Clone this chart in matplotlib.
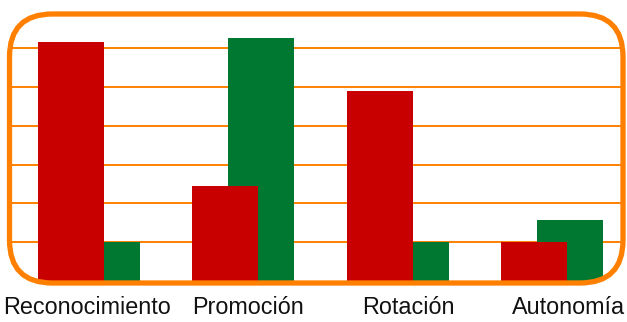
import matplotlib.pyplot as plt
from matplotlib.patches import FancyBboxPatch

# Valores por categoría (unidades = una línea de la rejilla)
categorias = ['Reconocimiento', 'Promoción', 'Rotación', 'Autonomía']
serie_roja = [6.17, 2.46, 4.9, 1.0]
serie_verde = [1.0, 6.26, 1.0, 1.58]

naranja = '#FF8000'
rojo = '#C80000'
verde = '#007832'

fig = plt.figure(figsize=(6.27, 3.22), dpi=100)
ax = fig.add_axes([9.5 / 627, (322 - 283) / 322, (623 - 9.5) / 627, (283 - 14) / 322])

ancho = 0.428
desplaz = 0.233
x = list(range(len(categorias)))

# rejilla horizontal
for nivel in range(1, 7):
    ax.axhline(nivel, color=naranja, linewidth=1.4, zorder=1)

ax.bar([i + desplaz for i in x], serie_verde, width=ancho, align='edge',
       color=verde, zorder=2)
ax.bar(x, serie_roja, width=ancho, align='edge', color=rojo, zorder=3)

ax.set_xlim(-0.185, 3.791)
ax.set_ylim(-0.052, 6.88)

# marco naranja con esquinas redondeadas
marco = FancyBboxPatch((0, 0), 1, 1, boxstyle='round,pad=0,rounding_size=0.07',
                       transform=ax.transAxes, facecolor='none',
                       edgecolor=naranja, linewidth=3.8, zorder=5,
                       clip_on=False, mutation_aspect=614 / 269)
ax.add_patch(marco)

for lado in ax.spines.values():
    lado.set_visible(False)
ax.set_yticks([])
ax.set_xticks([0.32 + 1.04 * i for i in x])
ax.set_xticklabels(categorias, fontsize=16.8, family='Liberation Sans', color='#111111')
ax.tick_params(axis='x', length=0, pad=9.5)

fig.savefig('out.png', dpi=100)
